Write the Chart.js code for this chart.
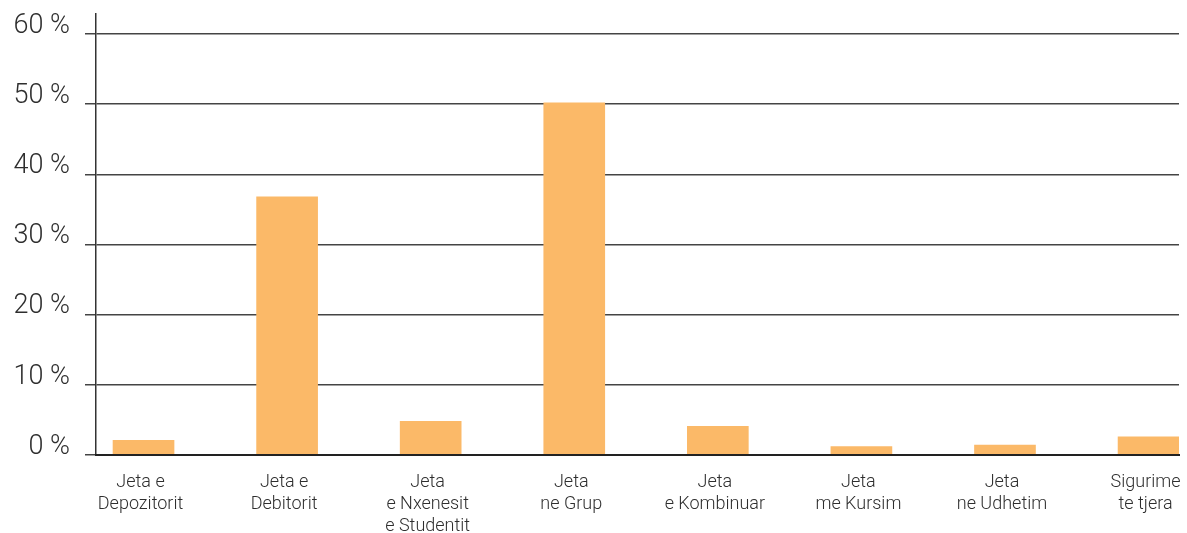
<!DOCTYPE html>
<html>
<head>
<meta charset="utf-8">
<script src="https://cdn.jsdelivr.net/npm/chart.js@4/dist/chart.umd.min.js"></script>
<style>
    html, body { margin: 0; padding: 0; background: #fff; }
    #wrap { width: 1187px; height: 533px; }
</style>
</head>
<body>
<div id="wrap"><canvas id="shareChart" width="1187" height="533"></canvas></div>
<script>
const categories = [
    ['Jeta e', 'Depozitorit'],
    ['Jeta e', 'Debitorit'],
    ['Jeta', 'e Nxenesit', 'e Studentit'],
    ['Jeta', 'ne Grup'],
    ['Jeta', 'e Kombinuar'],
    ['Jeta', 'me Kursim'],
    ['Jeta', 'ne Udhetim'],
    ['Sigurime', 'te tjera']
];
const shares = [2.1, 36.8, 4.8, 50.2, 4.1, 1.2, 1.4, 2.6];
const yTicks = [0, 10, 20, 30, 40, 50, 60];

const textColor = '#2e2e2e';
const barColor = '#fbb968';

// keep the plot area fixed: no extra room for overhanging tick labels
const noEdgePadding = axis => {
    axis.paddingTop = 0;
    axis.paddingBottom = 0;
    axis.paddingLeft = 0;
    axis.paddingRight = 0;
};

document.addEventListener('DOMContentLoaded', () => {
    const ctx = document.getElementById('shareChart').getContext('2d');
    new Chart(ctx, {
        type: 'bar',
        data: {
            datasets: [{
                data: shares.map((v, i) => ({ x: i, y: v })),
                backgroundColor: barColor,
                barThickness: 61,
                borderWidth: 0
            }]
        },
        options: {
            responsive: false,
            animation: false,
            layout: { padding: { top: 14, right: 8, left: 0, bottom: 0 } },
            plugins: {
                legend: { display: false },
                tooltip: { enabled: false }
            },
            scales: {
                x: {
                    type: 'linear',
                    offset: false,
                    min: -0.331,
                    max: 7.212,
                    afterBuildTicks: axis => {
                        axis.ticks = categories.map((c, i) => ({ value: i }));
                    },
                    afterFit: axis => {
                        axis.height = 78;
                        noEdgePadding(axis);
                    },
                    grid: { display: false, drawTicks: false },
                    border: { display: true, color: '#222', width: 2, z: 1 },
                    ticks: {
                        autoSkip: false,
                        maxRotation: 0,
                        padding: 17,
                        labelOffset: -3,
                        color: textColor,
                        font: { family: 'Roboto', weight: 300, size: 18, lineHeight: 1.22 },
                        callback: value => categories[value]
                    }
                },
                y: {
                    min: 0,
                    max: 62.85,
                    afterBuildTicks: axis => {
                        axis.ticks = yTicks.map(v => ({ value: v }));
                    },
                    afterFit: axis => {
                        axis.width = 96;
                        noEdgePadding(axis);
                    },
                    grid: { color: '#444', lineWidth: 1.5, tickLength: 11 },
                    border: { display: true, color: '#333', width: 1.5 },
                    ticks: {
                        padding: 15,
                        labelOffset: -8,
                        color: textColor,
                        font: { family: 'Roboto', weight: 300, size: 27 },
                        callback: value => value + ' %'
                    }
                }
            }
        }
    });
});
</script>
</body>
</html>
